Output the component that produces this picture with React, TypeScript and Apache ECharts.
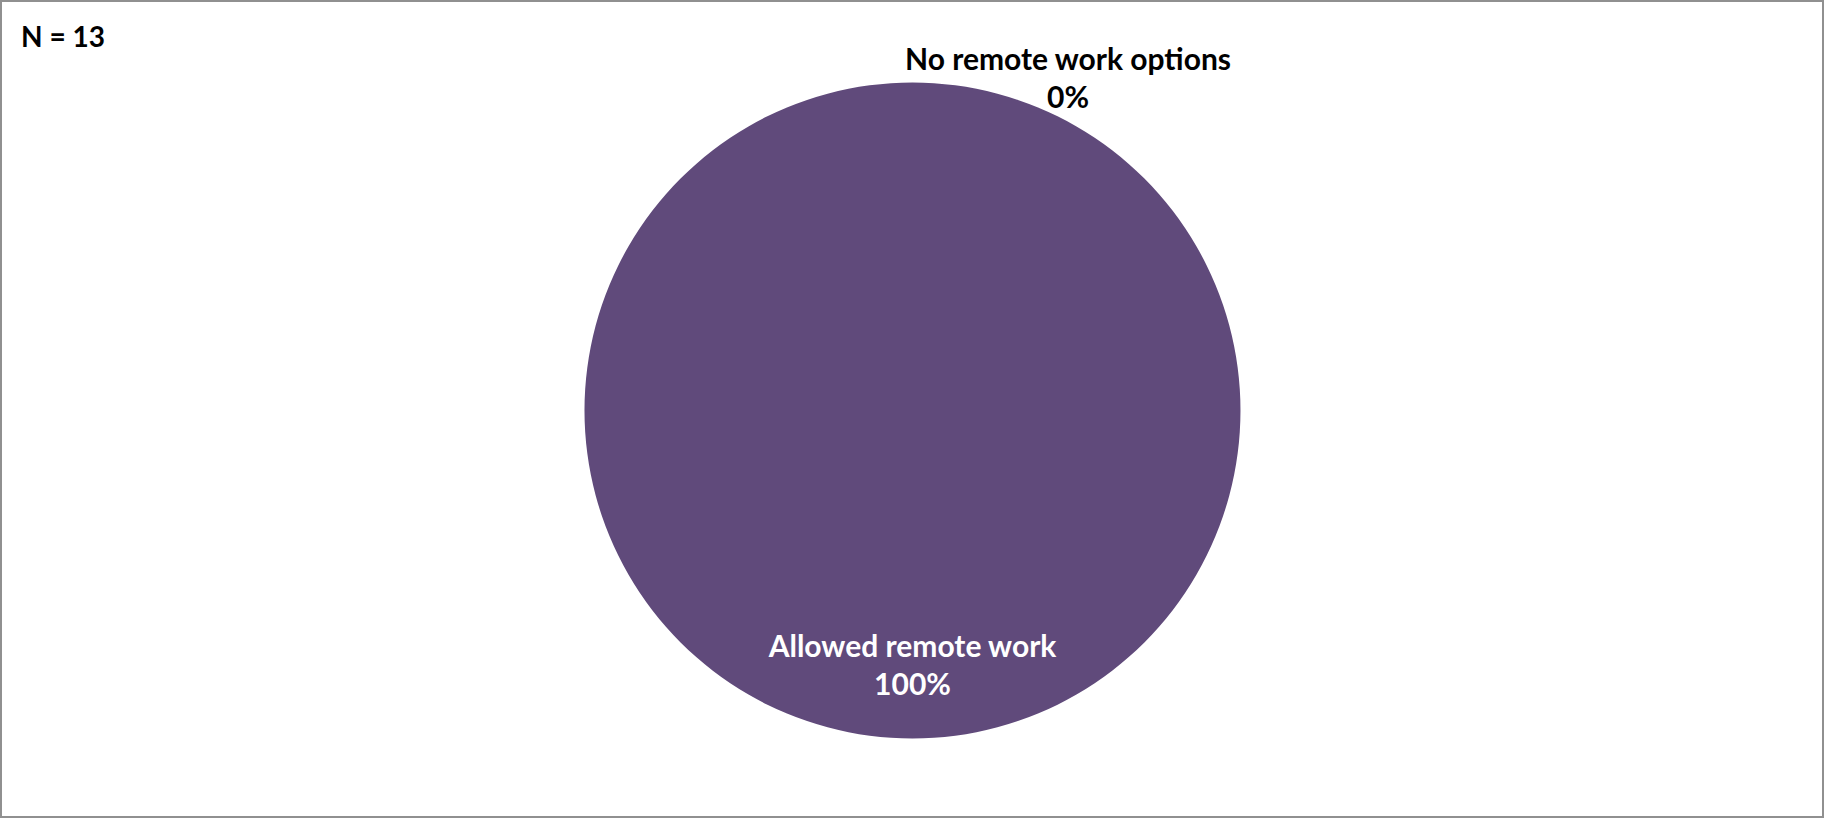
import React, { useEffect, useRef } from "react";
import * as echarts from "echarts";

const categories = ["Allowed remote work", "No remote work options"];
const counts = [13, 0];
const sampleLabel = "N = 13";
const sliceColors = ["#604A7B", "#604A7B"];
const labelColors = ["#ffffff", "#000000"];

export default function App() {
  const ref = useRef<HTMLDivElement>(null);
  useEffect(() => {
    if (!ref.current) return;
    const chart = echarts.init(ref.current, undefined, { renderer: "svg" });
    const font = "Lato, 'Open Sans', sans-serif";
    chart.setOption({
      animation: false,
      backgroundColor: "#ffffff",
      title: {
        text: sampleLabel,
        left: 16,
        top: 17,
        textStyle: { fontFamily: font, fontSize: 28, fontWeight: "bold", color: "#000000" },
      },
      graphic: [
        {
          type: "rect",
          shape: { x: 1, y: 1, width: 1822, height: 816 },
          style: { fill: "none", stroke: "#909090", lineWidth: 2 },
          silent: true,
        },
      ],
      series: [
        {
          type: "pie",
          center: [912.5, 410.5],
          radius: 328,
          startAngle: 90,
          clockwise: true,
          avoidLabelOverlap: false,
          stillShowZeroSum: true,
          percentPrecision: 0,
          labelLine: { show: false },
          itemStyle: { borderWidth: 0 },
          label: {
            show: true,
            formatter: "{b}\n{d}%",
            fontFamily: font,
            fontSize: 30,
            fontWeight: "bold",
            lineHeight: 38,
            align: "center",
          },
          labelLayout: (p: any) =>
            p.dataIndex === 0
              ? { x: 912.5, y: 664, align: "center", verticalAlign: "middle" }
              : { x: 1068, y: 77, align: "center", verticalAlign: "middle" },
          data: categories.map((name, i) => ({
            name,
            value: counts[i],
            itemStyle: { color: sliceColors[i] },
            label: { color: labelColors[i], position: i === 0 ? "inside" : "outside" },
          })),
        },
      ],
    });
    return () => chart.dispose();
  }, []);
  return (
    <div
      ref={ref}
      style={{ position: "fixed", left: 0, top: 0, width: 1825, height: 819 }}
    />
  );
}
